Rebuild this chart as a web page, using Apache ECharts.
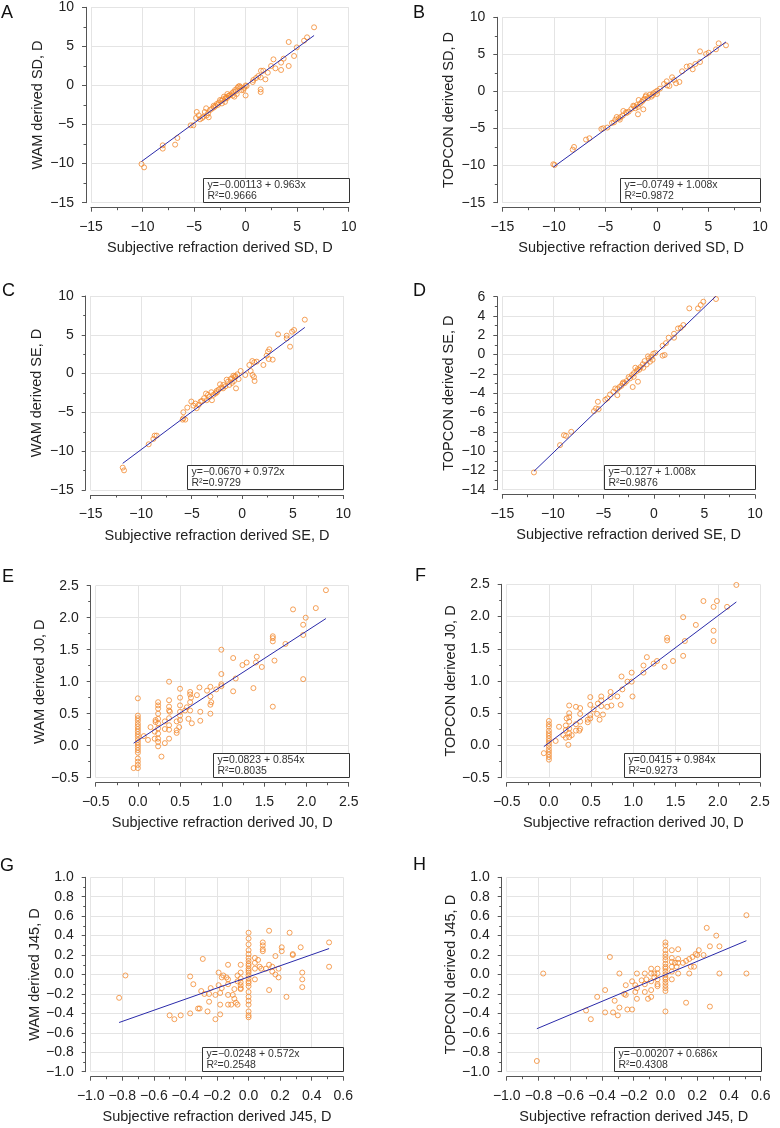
<!DOCTYPE html>
<html><head><meta charset="utf-8">
<script src="https://cdn.jsdelivr.net/npm/echarts@6/dist/echarts.min.js"></script>
<style>html,body{margin:0;padding:0;background:#fff}#c{width:780px;height:1128px}</style>
</head><body><div id="c"></div>
<script>
// ---------------- DATA ----------------
const panelLetters = ['A','B','C','D','E','F','G','H'];
const xTitles = [
  'Subjective refraction derived SD, D','Subjective refraction derived SD, D',
  'Subjective refraction derived SE, D','Subjective refraction derived SE, D',
  'Subjective refraction derived J0, D','Subjective refraction derived J0, D',
  'Subjective refraction derived J45, D','Subjective refraction derived J45, D'];
const yTitles = [
  'WAM derived SD, D','TOPCON derived SD, D','WAM derived SE, D','TOPCON derived SE, D',
  'WAM derived J0, D','TOPCON derived J0, D','WAM derived J45, D','TOPCON derived J45, D'];
// [min, max, interval, minor splits, decimals]
const xTicks = [[-15,10,5,2,0],[-15,10,5,2,0],[-15,10,5,2,0],[-15,10,5,2,0],
                [-0.5,2.5,0.5,2,1],[-0.5,2.5,0.5,2,1],[-1,0.6,0.2,2,1],[-1,0.6,0.2,2,1]];
const yTicks = [[-15,10,5,2,0],[-15,10,5,2,0],[-15,10,5,2,0],[-14,6,2,2,0],
                [-0.5,2.5,0.5,2,1],[-0.5,2.5,0.5,2,1],[-1,1,0.2,2,1],[-1,1,0.2,2,1]];
const fitIntercepts = [-0.00113,-0.0749,-0.0670,-0.127,0.0823,0.0415,-0.0248,-0.00207];
const fitSlopes = [0.963,1.008,0.972,1.008,0.854,0.984,0.572,0.686];
const fitTexts = ['y=\u22120.00113 + 0.963x','y=\u22120.0749 + 1.008x','y=\u22120.0670 + 0.972x','y=\u22120.127 + 1.008x',
                  'y=0.0823 + 0.854x','y=0.0415 + 0.984x','y=\u22120.0248 + 0.572x','y=\u22120.00207 + 0.686x'];
const r2Texts = ['R\u00b2=0.9666','R\u00b2=0.9872','R\u00b2=0.9729','R\u00b2=0.9876','R\u00b2=0.8035','R\u00b2=0.9273','R\u00b2=0.2548','R\u00b2=0.4308'];

const pointsA = [[6.64,7.44],[5.96,6.16],[5.67,5.73],[4.96,4.87],[4.70,3.77],[4.18,5.56],[4.18,2.49],[3.69,3.43],[3.44,2.92],[3.44,1.98],[2.89,2.19],[2.70,3.34],[2.47,2.49],[2.15,1.64],[1.92,0.78],[1.72,1.89],[1.49,1.89],[1.46,1.04],[1.46,-0.50],[1.46,-0.84],[1.23,1.21],[1.01,0.95],[0.75,0.70],[0.69,0.44],[0.10,-0.07],[0,0],[0,-1.28],[-0.15,-0.32],[-0.22,-0.58],[-0.48,-0.24],[-0.60,-0.07],[-0.70,-0.15],[-0.80,-0.32],[-0.86,-1.09],[-1.02,-0.58],[-1.09,-1.43],[-1.19,-0.84],[-1.32,-1.00],[-1.45,-1.18],[-1.58,-1.28],[-1.67,-1.35],[-1.77,-1.09],[-1.90,-1.52],[-1.96,-1.69],[-2.10,-1.43],[-2.20,-1.77],[-2.35,-1.95],[-2.48,-1.86],[-2.60,-2.20],[-2.80,-2.37],[-2.93,-2.62],[-3.06,-2.79],[-3.25,-2.96],[-3.45,-3.14],[-3.64,-3.56],[-3.77,-3.82],[-3.83,-2.92],[-3.96,-3.39],[-4.09,-3.99],[-4.22,-4.16],[-4.42,-4.33],[-4.55,-3.82],[-4.74,-3.39],[-4.81,-4.16],[-3.58,-4.07],[-5.07,-5.10],[-5.33,-5.10],[-6.62,-6.72],[-6.84,-7.57],[-8.04,-7.66],[-8.04,-8.08],[-10.10,-10.05],[-9.85,-10.48],[-1.25,-1.30],[-2.00,-2.10],[-2.70,-2.50],[-0.40,-0.60],[-1.80,-1.60],[-3.10,-2.60],[-0.95,-0.75],[-2.30,-2.30]];
const pointsB = [[6.70,6.22],[5.99,6.49],[4.18,5.41],[4.77,5.05],[5.02,5.23],[5.73,5.68],[4.18,3.97],[3.73,3.70],[3.47,2.99],[3.21,3.43],[2.89,3.35],[2.44,2.72],[2.18,1.28],[1.86,1.10],[1.47,1.91],[1.66,1.55],[1.21,0.74],[0.95,1.37],[0.69,1.01],[0.30,0.38],[0.04,0.11],[0,-0.34],[-0.15,-0.07],[-0.35,-0.25],[-0.54,-0.70],[-0.67,-0.43],[-0.87,-0.88],[-1.06,-0.52],[-1.19,-0.97],[-1.32,-1.15],[-1.32,-2.41],[-1.45,-1.38],[-1.64,-1.65],[-1.77,-1.15],[-1.84,-2.09],[-1.84,-3.08],[-1.96,-1.83],[-2.09,-2.27],[-2.29,-1.92],[-2.48,-2.36],[-2.74,-2.72],[-2.94,-2.90],[-3.26,-2.63],[-3.32,-3.26],[-3.52,-3.44],[-3.71,-3.62],[-3.90,-3.44],[-4.03,-3.80],[-4.16,-4.16],[-4.36,-4.24],[-4.81,-4.87],[-5.20,-4.96],[-5.39,-5.05],[-6.55,-6.31],[-6.88,-6.49],[-8.04,-7.48],[-8.17,-7.84],[-10.05,-9.82],[-9.92,-9.91],[-1.10,-0.70],[-2.20,-2.00],[-3.00,-2.80],[-0.40,-0.50],[1.00,0.80],[-3.60,-3.80]];
const pointsC = [[6.19,6.95],[5.13,5.62],[4.93,5.40],[4.40,4.89],[4.40,4.54],[4.73,3.47],[3.54,5.06],[2.68,3.13],[2.55,2.83],[2.41,2.31],[3.01,1.80],[2.62,1.88],[2.09,1.11],[1.43,1.54],[0.99,1.62],[1.19,1.45],[1.02,-0.18],[1.16,-0.44],[1.22,-0.95],[0.83,0.34],[0.70,1.11],[0.30,-0.18],[-0.16,0.34],[-0.36,-0.70],[-0.49,-0.09],[-0.62,-1.90],[-0.69,-0.44],[-0.82,-0.95],[-0.88,-0.27],[-1.02,-1.20],[-1.15,-0.70],[-1.28,-1.46],[-1.41,-1.04],[-1.54,-0.78],[-1.67,-1.64],[-1.87,-1.46],[-2.07,-1.80],[-2.20,-1.38],[-2.33,-2.06],[-2.53,-2.23],[-2.66,-2.57],[-2.86,-2.74],[-3.00,-3.43],[-3.06,-2.40],[-3.26,-3.00],[-3.39,-2.74],[-3.52,-3.43],[-3.59,-2.57],[-3.78,-3.17],[-3.98,-3.52],[-4.12,-3.60],[-4.31,-4.03],[-4.51,-4.46],[-4.65,-3.86],[-4.84,-4.12],[-5.04,-3.60],[-5.44,-4.38],[-5.83,-4.98],[-5.83,-5.76],[-5.64,-5.93],[-5.90,-5.93],[-8.47,-7.99],[-8.67,-7.99],[-8.80,-8.42],[-9.26,-9.11],[-11.83,-12.12],[-11.70,-12.47],[-1.00,-0.60],[-1.90,-1.90],[-2.50,-2.40],[-0.70,-0.30]];
const pointsD = [[6.14,5.76],[4.89,5.48],[4.63,5.14],[4.36,4.79],[3.50,4.79],[2.91,3.06],[2.65,2.78],[2.38,2.71],[1.99,2.16],[1.99,1.75],[1.46,1.75],[1.19,1.19],[1.06,-0.04],[0.86,-0.11],[0.86,0.92],[0.14,0.16],[-0.06,0.09],[-0.13,-0.53],[-0.26,-0.25],[-0.39,-0.74],[-0.59,-0.18],[-0.72,-1.02],[-0.92,-0.67],[-1.05,-1.36],[-1.32,-1.29],[-1.45,-1.57],[-1.58,-2.81],[-1.71,-1.71],[-1.84,-1.36],[-1.97,-1.91],[-2.10,-3.36],[-2.17,-2.12],[-2.37,-2.47],[-2.50,-2.33],[-2.70,-2.74],[-2.89,-2.95],[-3.03,-2.88],[-3.22,-3.23],[-3.42,-3.37],[-3.62,-3.57],[-3.62,-4.20],[-3.82,-3.51],[-4.01,-3.85],[-4.34,-4.13],[-4.61,-4.54],[-4.81,-4.68],[-5.54,-4.89],[-5.47,-5.65],[-5.73,-5.58],[-5.93,-5.86],[-8.18,-8.00],[-8.70,-8.42],[-8.90,-8.35],[-9.29,-9.38],[-11.87,-12.21],[-1.10,-1.00],[-2.00,-2.30],[-0.50,-0.40],[-1.60,-1.50],[-3.10,-3.00]];
const pointsE = [[2.23,2.43],[2.11,2.15],[1.99,2.00],[1.84,2.13],[1.96,1.89],[1.96,1.73],[1.96,1.04],[1.75,1.59],[1.60,1.71],[1.60,1.68],[1.60,1.63],[1.62,1.33],[1.60,0.61],[1.47,1.23],[1.41,1.39],[1.40,1.30],[1.37,0.90],[1.29,1.30],[1.24,1.26],[1.16,1.05],[1.13,1.37],[1.13,0.85],[0.99,1.50],[0.99,1.12],[0.99,0.96],[0.99,0.93],[0.93,0.88],[0.86,0.92],[0.86,0.77],[0.86,0.64],[0.86,0.50],[0.87,0.68],[0.82,0.86],[0.73,0.91],[0.74,0.53],[0.74,0.39],[0.70,0.79],[0.63,0.75],[0.62,0.84],[0.62,0.80],[0.62,0.68],[0.62,0.55],[0.60,0.42],[0.64,0.35],[0.58,0.60],[0.56,0.55],[0.50,0.89],[0.50,0.75],[0.50,0.63],[0.50,0.53],[0.50,0.47],[0.50,0.40],[0.49,0.29],[0.46,0.38],[0.46,0.24],[0.46,0.20],[0.38,0.53],[0.37,1.00],[0.37,0.71],[0.37,0.61],[0.37,0.55],[0.37,0.43],[0.37,0.32],[0.37,0.25],[0.37,0.11],[0.32,0.38],[0.32,0.26],[0.32,0.04],[0.28,-0.17],[0.24,0.68],[0.24,0.63],[0.24,0.58],[0.24,0.50],[0.24,0.42],[0.24,0.35],[0.24,0.27],[0.24,0.19],[0.24,0.11],[0.24,0.06],[0.24,-0.01],[0.21,0.40],[0.21,0.37],[0.20,0.22],[0.20,0.11],[0.15,0.29],[0.12,0.09],[0.07,0.15],[0,0.74],[0,0.47],[0,0.43],[0,0.39],[0,0.34],[0,0.30],[0,0.26],[0,0.22],[0,0.18],[0,0.14],[0,0.09],[0,0.05],[0,0.01],[0,-0.03],[0,-0.07],[0,-0.11],[0,-0.20],[0,-0.25],[0,-0.30],[0,-0.35],[-0.05,-0.35]];
const pointsF = [[2.22,2.49],[1.99,2.24],[1.83,2.24],[1.95,2.15],[2.11,2.15],[1.74,1.87],[1.59,1.99],[1.95,1.78],[1.95,1.62],[1.61,1.62],[1.59,1.39],[1.47,1.31],[1.40,1.67],[1.40,1.63],[1.37,1.22],[1.28,1.31],[1.24,1.27],[1.16,1.37],[1.12,1.24],[1.12,1.13],[0.98,1.13],[0.98,0.99],[0.99,0.76],[0.93,0.99],[0.86,1.07],[0.87,0.87],[0.85,0.63],[0.81,0.76],[0.73,0.83],[0.73,0.75],[0.74,0.62],[0.69,0.60],[0.62,0.76],[0.62,0.70],[0.62,0.61],[0.64,0.48],[0.60,0.40],[0.57,0.49],[0.58,0.65],[0.53,0.56],[0.49,0.75],[0.49,0.63],[0.49,0.47],[0.49,0.42],[0.46,0.36],[0.46,0.40],[0.37,0.58],[0.37,0.49],[0.37,0.37],[0.37,0.26],[0.36,0.23],[0.32,0.60],[0.32,0.33],[0.32,0.23],[0.27,0.16],[0.24,0.62],[0.24,0.50],[0.24,0.44],[0.24,0.37],[0.24,0.26],[0.24,0.19],[0.24,0.13],[0.23,0.01],[0.21,0.42],[0.20,0.31],[0.20,0.24],[0.20,0.12],[0.17,0.16],[0.12,0.29],[0.08,0.07],[0,0.38],[0,0.33],[0,0.29],[0,0.23],[0,0.19],[0,0.15],[0,0.11],[0,0.07],[0,0.03],[0,-0.01],[0,-0.06],[0,-0.10],[0,-0.14],[0,-0.18],[0,-0.22],[-0.06,-0.12]];
const pointsG = [[-0.82,-0.24],[-0.78,-0.01],[-0.50,-0.42],[-0.47,-0.46],[-0.43,-0.42],[-0.37,-0.40],[-0.37,-0.02],[-0.35,-0.10],[-0.32,-0.35],[-0.31,-0.35],[-0.30,-0.17],[-0.29,0.16],[-0.28,-0.20],[-0.26,-0.38],[-0.25,-0.28],[-0.25,-0.20],[-0.24,-0.14],[-0.21,-0.21],[-0.21,-0.46],[-0.19,0.02],[-0.19,-0.11],[-0.18,-0.19],[-0.18,-0.31],[-0.18,-0.41],[-0.17,-0.03],[-0.17,-0.14],[-0.16,-0.01],[-0.14,-0.03],[-0.13,0.10],[-0.13,-0.05],[-0.13,-0.10],[-0.13,-0.21],[-0.13,-0.31],[-0.11,-0.31],[-0.10,-0.21],[-0.09,-0.15],[-0.09,-0.25],[-0.08,-0.29],[-0.07,-0.31],[-0.07,-0.07],[-0.07,-0.01],[-0.05,-0.14],[-0.05,0.10],[-0.05,0.02],[-0.05,-0.04],[-0.05,-0.08],[-0.05,-0.11],[-0.05,-0.15],[0,0.43],[0,0.37],[0,0.31],[0,0.25],[0,0.21],[0,0.17],[0,0.14],[0,0.11],[0,0.09],[0,0.06],[0,0.04],[0,0.02],[0,-0.01],[0,-0.04],[0,-0.07],[0,-0.09],[0,-0.12],[0,-0.18],[0,-0.23],[0,-0.27],[0,-0.31],[0,-0.38],[0,-0.42],[0,-0.44],[0.04,0.17],[0.04,0.12],[0.04,0.06],[0.04,-0.05],[0.06,0.15],[0.07,0.08],[0.08,0.06],[0.09,0.33],[0.09,0.30],[0.09,0.26],[0.09,0.24],[0.11,0.06],[0.13,0.45],[0.13,0.10],[0.13,-0.16],[0.15,0.08],[0.15,0.03],[0.17,0.19],[0.17,0.00],[0.19,0.06],[0.19,-0.03],[0.21,0.28],[0.21,0.24],[0.24,-0.23],[0.26,0.43],[0.28,0.21],[0.28,0.20],[0.33,0.28],[0.34,0.02],[0.34,-0.05],[0.34,-0.13],[0.51,0.33],[0.51,0.08]];
const pointsH = [[-0.81,-0.89],[-0.77,0.01],[-0.50,-0.37],[-0.47,-0.46],[-0.43,-0.23],[-0.38,-0.16],[-0.38,-0.39],[-0.35,0.18],[-0.33,-0.39],[-0.32,-0.27],[-0.30,-0.42],[-0.29,-0.34],[-0.29,0.01],[-0.26,-0.20],[-0.25,-0.11],[-0.25,-0.21],[-0.24,-0.36],[-0.21,-0.36],[-0.21,-0.07],[-0.19,-0.11],[-0.19,-0.18],[-0.18,0.01],[-0.18,-0.14],[-0.18,-0.25],[-0.15,-0.06],[-0.13,0.01],[-0.13,-0.10],[-0.13,-0.18],[-0.12,-0.05],[-0.11,-0.25],[-0.09,-0.23],[-0.09,0.06],[-0.09,0.01],[-0.09,-0.07],[-0.09,-0.16],[-0.07,0.01],[-0.07,-0.03],[-0.05,-0.10],[-0.05,0.06],[-0.05,0.01],[-0.05,-0.05],[-0.05,-0.12],[0,0.33],[0,0.30],[0,0.25],[0,0.21],[0,0.18],[0,0.15],[0,0.11],[0,0.08],[0,0.06],[0,0.03],[0,0.00],[0,-0.03],[0,-0.05],[0,-0.08],[0,-0.11],[0,-0.14],[0,-0.17],[0,-0.38],[0.04,0.25],[0.04,0.17],[0.04,0.13],[0.04,0.08],[0.04,0.03],[0.04,-0.05],[0.06,0.12],[0.07,0.08],[0.08,0.26],[0.08,0.16],[0.08,0.12],[0.08,0.01],[0.11,0.12],[0.13,0.14],[0.13,-0.29],[0.15,0.01],[0.15,0.16],[0.16,0.08],[0.17,0.18],[0.18,0.08],[0.19,0.21],[0.20,0.20],[0.21,0.25],[0.24,0.20],[0.26,0.48],[0.28,0.29],[0.28,-0.33],[0.32,0.40],[0.34,0.29],[0.34,0.01],[0.51,0.61],[0.51,0.01]];
const allPoints = [pointsA,pointsB,pointsC,pointsD,pointsE,pointsF,pointsG,pointsH];

// ---------------- LAYOUT / STYLE ----------------
const FONT = '"Liberation Sans", Arial, Helvetica, sans-serif';
const ORANGE = '#f28a30';
const BLUE = '#2a2aaa';
const AXIS = '#555';
const TXT = '#222';
const gridBoxes = [
  {left:91, top:7.3, width:257.7, height:195.4},
  {left:502.3, top:17.3, width:257.7, height:185.4},
  {left:90.7, top:296, width:252.6, height:194},
  {left:502.3, top:296.7, width:252.7, height:193},
  {left:95.7, top:585.7, width:253, height:192},
  {left:506.7, top:584.3, width:253.3, height:193.4},
  {left:90.7, top:877.3, width:252.6, height:194.4},
  {left:506.7, top:877.3, width:254, height:194.4}
];
const letterPos = [[1,13],[413,13],[2,291],[413,291],[2,577],[415,576],[0,866],[413,865.5]];
const boxWidths = [146,140,156,151,136,136,141,147];

function fmt(v, dec){
  let s = Number(v).toFixed(dec);
  if (/^-0(\.0+)?$/.test(s)) s = s.slice(1);
  return s.replace('-', '\u2212');
}
function makeAxis(i, isX){
  const t = isX ? xTicks[i] : yTicks[i];
  return {
    type:'value', gridIndex:i, min:t[0], max:t[1], interval:t[2],
    position: isX ? 'bottom' : 'left', offset:5,
    name: isX ? xTitles[i] : yTitles[i], nameLocation:'middle', nameGap: isX ? 33 : 41,
    nameTextStyle:{fontFamily:FONT, fontSize:14.5, color:TXT},
    axisLine:{show:true, onZero:false, lineStyle:{color:AXIS, width:1}},
    axisTick:{show:true, inside:false, length:4, lineStyle:{color:AXIS, width:1}},
    minorTick:{show:true, splitNumber:t[3], length:2.5, lineStyle:{color:AXIS, width:1}},
    axisLabel:{fontFamily:FONT, fontSize:14, color:TXT, margin:12, formatter:v => fmt(v, t[4])},
    splitLine:{show:true, lineStyle:{color:'#e4e4e4', width:1}},
    minorSplitLine:{show:false}
  };
}

const grids=[], xAxes=[], yAxes=[], series=[], graphics=[];
for (let i=0;i<8;i++){
  grids.push(Object.assign({containLabel:false}, gridBoxes[i]));
  xAxes.push(makeAxis(i,true));
  yAxes.push(makeAxis(i,false));
  series.push({type:'scatter', xAxisIndex:i, yAxisIndex:i, data:allPoints[i], symbol:'circle', symbolSize:5,
    itemStyle:{color:'rgba(0,0,0,0)', borderColor:ORANGE, borderWidth:1}, silent:true, z:2});
  const xs = allPoints[i].map(p=>p[0]);
  const x0 = Math.min(...xs), x1 = Math.max(...xs);
  series.push({type:'line', xAxisIndex:i, yAxisIndex:i, symbol:'none', silent:true, z:3,
    data:[[x0, fitIntercepts[i]+fitSlopes[i]*x0],[x1, fitIntercepts[i]+fitSlopes[i]*x1]],
    lineStyle:{color:BLUE, width:1}});
  // regression annotation box (bottom-right of plot region)
  const g = gridBoxes[i];
  const bw = boxWidths[i], bh = 24;
  const bx = Math.round(g.left + g.width - bw) + 0.5;
  const by = Math.round(g.top + g.height - bh - 1) + 0.5;
  graphics.push({type:'rect', z:10, shape:{x:bx, y:by, width:bw, height:bh},
    style:{fill:'#fff', stroke:'#333', lineWidth:1}});
  graphics.push({type:'text', z:11, x:bx+4, y:by+7, style:{text:fitTexts[i], font:'10.5px '+FONT, fill:'#333',
    textAlign:'left', textVerticalAlign:'middle', align:'left', verticalAlign:'middle'}});
  graphics.push({type:'text', z:11, x:bx+4, y:by+18, style:{text:r2Texts[i], font:'10.5px '+FONT, fill:'#333',
    textAlign:'left', textVerticalAlign:'middle', align:'left', verticalAlign:'middle'}});
  graphics.push({type:'text', z:11, x:letterPos[i][0], y:letterPos[i][1], style:{text:panelLetters[i], font:'18px '+FONT, fill:'#111',
    textAlign:'left', textVerticalAlign:'middle', align:'left', verticalAlign:'middle'}});
}

const chart = echarts.init(document.getElementById('c'), null, {renderer:'canvas'});
chart.setOption({
  animation:false, backgroundColor:'#fff',
  grid:grids, xAxis:xAxes, yAxis:yAxes, series:series, graphic:graphics
});
</script></body></html>
